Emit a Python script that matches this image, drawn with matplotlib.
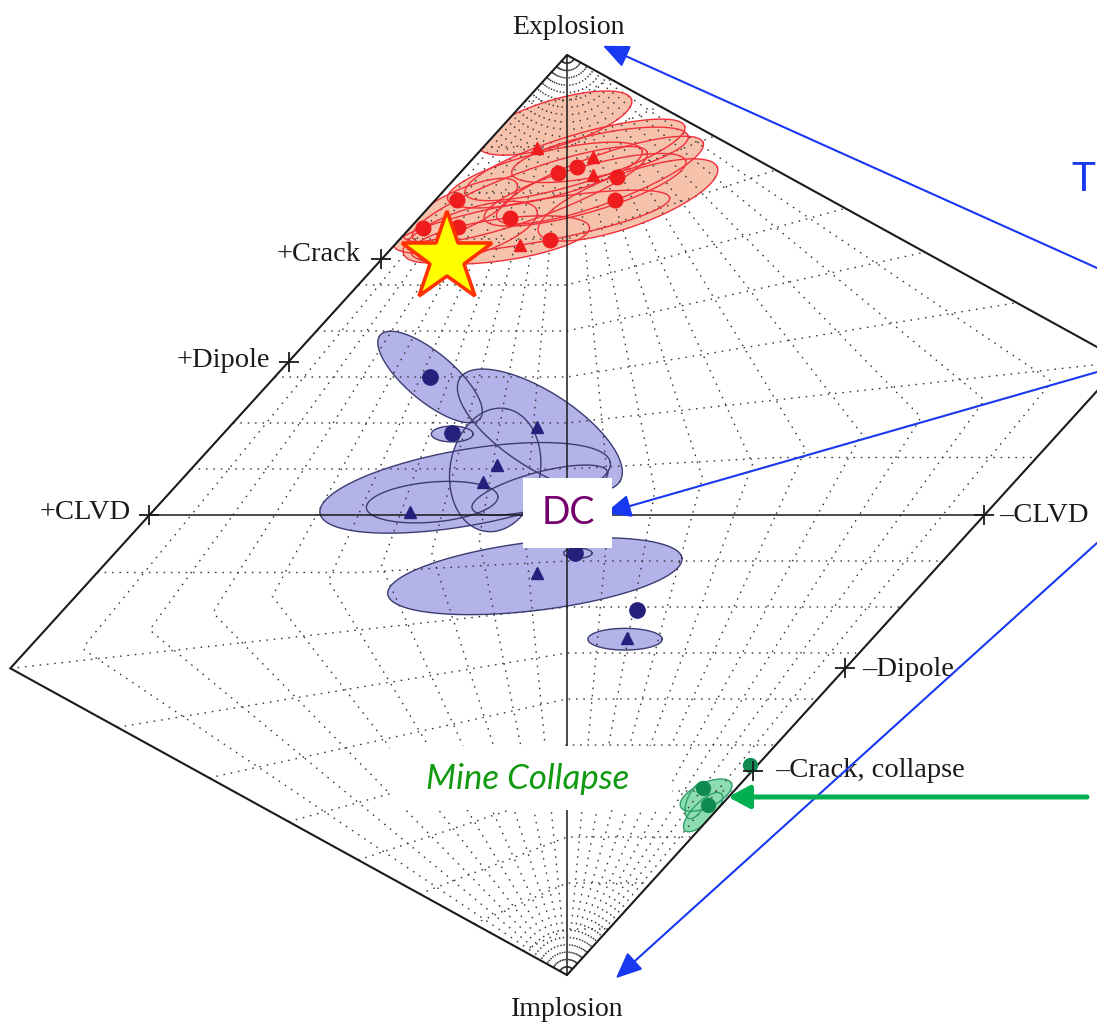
import numpy as np
import matplotlib
matplotlib.use("Agg")
import matplotlib.pyplot as plt
from matplotlib.patches import Polygon, Rectangle

# ---------------- event data, Hudson (u, v) coordinates ----------------
# NTS explosions: confidence regions (centre, semi-axes, tilt in degrees)
exp_reg_u = [-0.029, 0.019, 0.079, 0.146, -0.084, -0.089, -0.232, -0.053, 0.079, -0.160, 0.043, -0.256]
exp_reg_v = [0.852, 0.772, 0.728, 0.685, 0.637, 0.696, 0.615, 0.739, 0.783, 0.598, 0.707, 0.663]
exp_reg_a = [0.192, 0.275, 0.263, 0.228, 0.335, 0.299, 0.168, 0.240, 0.216, 0.216, 0.251, 0.150]
exp_reg_b = [0.055, 0.058, 0.058, 0.064, 0.050, 0.058, 0.055, 0.055, 0.050, 0.050, 0.055, 0.046]
exp_reg_tilt = [17, 17, 20, 20, 10, 20, 18, 14, 12, 8, 16, 25]
# NTS explosions: best-fitting solutions
exp_u = [-0.263, -0.345, -0.137, -0.041, -0.022, 0.024, 0.120, 0.115, -0.261, -0.072, 0.062, 0.062, -0.113]
exp_v = [0.685, 0.624, 0.646, 0.598, 0.743, 0.757, 0.735, 0.685, 0.626, 0.798, 0.778, 0.739, 0.587]
exp_sym = ['o', 'o', 'o', 'o', 'o', 'o', 'o', 'o', 'o', '^', '^', '^', '^']

# Earthquakes: confidence regions
eq_reg_u = [-0.328, -0.275, -0.065, -0.172, -0.244, -0.323, -0.065, -0.077, 0.139, 0.026]
eq_reg_v = [0.300, 0.176, 0.185, 0.098, 0.059, 0.028, 0.054, -0.133, -0.270, -0.083]
eq_reg_a = [0.156, 0.050, 0.228, 0.149, 0.353, 0.158, 0.168, 0.355, 0.089, 0.034]
eq_reg_b = [0.058, 0.019, 0.091, 0.108, 0.091, 0.048, 0.043, 0.082, 0.026, 0.012]
eq_reg_tilt = [-40, 0, -33, 80, 10, 5, 15, 7, 0, 0]
# Earthquakes: best-fitting solutions
eq_u = [-0.328, -0.275, -0.072, -0.168, -0.201, -0.376, -0.072, 0.019, 0.168, 0.144]
eq_v = [0.300, 0.178, 0.191, 0.109, 0.072, 0.007, -0.126, -0.083, -0.207, -0.267]
eq_sym = ['o', 'o', '^', '^', '^', '^', '^', 'o', 'o', '^']

# Mine collapse: confidence regions and solutions
col_reg_u = [0.333, 0.326, 0.311]
col_reg_v = [-0.609, -0.646, -0.620]
col_reg_a = [0.067, 0.062, 0.048]
col_reg_b = [0.029, 0.024, 0.022]
col_reg_tilt = [25, 45, 65]
col_u = [0.326, 0.338, 0.438]
col_v = [-0.593, -0.630, -0.543]

# Highlighted event
star_u = [-0.287]
star_v = [0.559]

# Reference source types on the diamond edge: (T, k)
ref_T = [-1, -1, -1, 1, 1, 1]
ref_k = [5 / 9, 1 / 3, 0, 0, -1 / 3, -5 / 9]
ref_labels = ['+Crack', '+Dipole', '+CLVD', '\u2013CLVD', '\u2013Dipole', '\u2013Crack, collapse']

# Grid levels
grid_T = [-0.9, -0.8, -0.7, -0.6, -0.5, -0.4, -0.3, -0.2, -0.1, 0.1, 0.2, 0.3, 0.4, 0.5, 0.6, 0.7, 0.8, 0.9]
grid_k = [-0.9, -0.8, -0.7, -0.6, -0.5, -0.4, -0.3, -0.2, -0.1, 0.1, 0.2, 0.3, 0.4, 0.5, 0.6, 0.7, 0.8, 0.9]


def hudson_uv(T, k):
    """Hudson et al. (1989) equal-area projection of (T, k)."""
    T, k = np.broadcast_arrays(np.asarray(T, float), np.asarray(k, float))
    tau = T * (1 - np.abs(k))
    u = tau.copy()
    v = k.copy()
    q1 = (tau > 0) & (k > 0)
    a = q1 & (tau < 4 * k)
    b = q1 & ~(tau < 4 * k)
    u[a] = tau[a] / (1 - tau[a] / 2)
    v[a] = k[a] / (1 - tau[a] / 2)
    u[b] = tau[b] / (1 - 2 * k[b])
    v[b] = k[b] / (1 - 2 * k[b])
    q3 = (tau < 0) & (k < 0)
    c = q3 & (tau > 4 * k)
    d = q3 & ~(tau > 4 * k)
    u[c] = tau[c] / (1 + tau[c] / 2)
    v[c] = k[c] / (1 + tau[c] / 2)
    u[d] = tau[d] / (1 + 2 * k[d])
    v[d] = k[d] / (1 + 2 * k[d])
    return u, v


SERIF = ['Liberation Serif', 'DejaVu Serif']
SANS = ['Lato', 'Open Sans', 'DejaVu Sans']

fig = plt.figure(figsize=(10.97, 10.26), dpi=100)
ax = fig.add_axes([0, 0, 1, 1])
ax.set_xlim(-567 / 417.5, 530 / 417.5)
ax.set_ylim(-511 / 460, 515 / 460)
ax.axis('off')

# display pixels per data unit, used to keep confidence ellipses true on screen
p0 = ax.transData.transform((0, 0))
p1 = ax.transData.transform((1, 1))
v_per_u = (p1[0] - p0[0]) / (p1[1] - p0[1])

# diamond frame
corners = np.array([[0, 1], [4 / 3, 1 / 3], [0, -1], [-4 / 3, -1 / 3]])
frame = Polygon(corners, closed=True, fill=False, edgecolor='#1a1a1a', lw=1.5, zorder=4)
ax.add_patch(frame)


def region(u0, v0, a, b, tilt):
    t = np.linspace(0, 2 * np.pi, 240)
    x = a * np.cos(t)
    y = b * np.sin(t)
    th = np.radians(tilt)
    X = x * np.cos(th) - y * np.sin(th)
    Y = x * np.sin(th) + y * np.cos(th)
    return u0 + X, v0 + Y * v_per_u


def draw_regions(us, vs, As, Bs, tilts, face, edge):
    for u0, v0, a, b, tl in zip(us, vs, As, Bs, tilts):
        uu, vv = region(u0, v0, a, b, tl)
        for p in ax.fill(uu, vv, color=face, lw=0, zorder=1):
            p.set_clip_path(frame)
        ln, = ax.plot(uu, vv, color=edge, lw=1.0, zorder=3)
        ln.set_clip_path(frame)


draw_regions(exp_reg_u, exp_reg_v, exp_reg_a, exp_reg_b, exp_reg_tilt, '#F6C2AC', '#F2303A')
draw_regions(eq_reg_u, eq_reg_v, eq_reg_a, eq_reg_b, eq_reg_tilt, '#B3B3EA', '#3C3C72')
draw_regions(col_reg_u, col_reg_v, col_reg_a, col_reg_b, col_reg_tilt, '#8EDDB2', '#2E9E6A')

# dotted grid of constant T and constant k
dot = dict(color='#333333', lw=1.0, ls=(0, (1.1, 4.2)), zorder=2)
for T in grid_T:
    for kk in (np.linspace(1, 0, 200), np.linspace(-1, 0, 200)):
        u, v = hudson_uv(T, kk)
        ax.plot(u, v, **dot)
for k in grid_k:
    u, v = hudson_uv(np.linspace(-1, 1, 400), k)
    ax.plot(u, v, **dot)

# solid T = 0 and k = 0 lines
u, v = hudson_uv(0, np.linspace(-1, 1, 50))
ax.plot(u, v, color='#1a1a1a', lw=1.1, zorder=4)
u, v = hudson_uv(np.linspace(-1, 1, 50), 0)
ax.plot(u, v, color='#1a1a1a', lw=1.1, zorder=4)

# best-fit solutions
for u0, v0, s in zip(exp_u, exp_v, exp_sym):
    ax.plot(u0, v0, s, ms=10.5 if s == 'o' else 8, color='#EE1C1C', mec='#EE1C1C', zorder=5)
for u0, v0, s in zip(eq_u, eq_v, eq_sym):
    ax.plot(u0, v0, s, ms=11 if s == 'o' else 8, color='#24207C', mec='#24207C', zorder=5)
ax.plot(col_u, col_v, 'o', ms=10, color='#0E8A52', zorder=5)
ax.plot(star_u, star_v, '*', ms=68, mfc='#FFFF00', mec='#FF3300', mew=2.6, zorder=6)

# reference source types
ru, rv = hudson_uv(ref_T, ref_k)
ax.plot(ru, rv, '+', ms=14, mew=1.3, color='#1a1a1a', zorder=6)
offsets = [(-15, 3.5), (-13.5, 0.5), (-13.5, 2), (10.5, 0), (12, -0.7), (16.5, 0)]
for x, y, lab, (dx, dy) in zip(ru, rv, ref_labels, offsets):
    ax.annotate(lab, (x, y), xytext=(dx, dy), textcoords='offset points',
                ha='right' if dx < 0 else 'left', va='center',
                fontsize=20.5, family=SERIF, color='#1a1a1a', zorder=7)
ax.annotate('Explosion', (0, 1), xytext=(1, 20), textcoords='offset points',
            ha='center', va='center', fontsize=20, family=SERIF, color='#1a1a1a')
ax.annotate('Implosion', (0, -1), xytext=(0, -25), textcoords='offset points',
            ha='center', va='center', fontsize=20, family=SERIF, color='#1a1a1a')

# callouts
blue = '#1838F2'
bstyle = dict(arrowstyle='-|>,head_length=0.8,head_width=0.35', mutation_scale=20,
              color=blue, lw=1.5, shrinkA=0, shrinkB=0)
ax.annotate('', xy=(0.086, 1.020), xycoords='data', xytext=(1.0, 0.7388),
            textcoords='axes fraction', arrowprops=bstyle, zorder=8)
ax.annotate('', xy=(0.091, 0.004), xycoords='data', xytext=(1.0, 0.6374),
            textcoords='axes fraction', arrowprops=bstyle, zorder=8)
ax.annotate('', xy=(0.117, -1.007), xycoords='data', xytext=(1.0, 0.4708),
            textcoords='axes fraction', arrowprops=bstyle, zorder=8)
ax.text(0.9985, 0.8255, 'T', transform=ax.transAxes, ha='right', va='center',
        fontsize=29, family=SANS, color=blue)

gstyle = dict(arrowstyle='-|>,head_length=0.65,head_width=0.35', mutation_scale=20,
              color='#00B050', lw=3.6, shrinkA=0, shrinkB=0)
ax.annotate('', xy=(0.386, -0.613), xycoords='data', xytext=(0.9909, 0.2232),
            textcoords='axes fraction', arrowprops=gstyle, zorder=8)

# label boxes
ax.add_patch(Rectangle((0.4768, 0.4659), 0.0811, 0.0682, transform=ax.transAxes,
                       facecolor='white', edgecolor='none', zorder=9))
ax.text(0.5178, 0.500, 'DC', transform=ax.transAxes, ha='center', va='center',
        fontsize=27, family=SANS, color='#74006E', zorder=10)
ax.add_patch(Rectangle((0.3555, 0.2105), 0.2571, 0.0624, transform=ax.transAxes,
                       facecolor='white', edgecolor='none', zorder=9))
ax.text(0.4813, 0.2407, 'Mine Collapse', transform=ax.transAxes, ha='center', va='center',
        fontsize=25, family=SANS, style='italic', color='#109A10', zorder=10)

fig.savefig('out.png', dpi=100, facecolor='white')
